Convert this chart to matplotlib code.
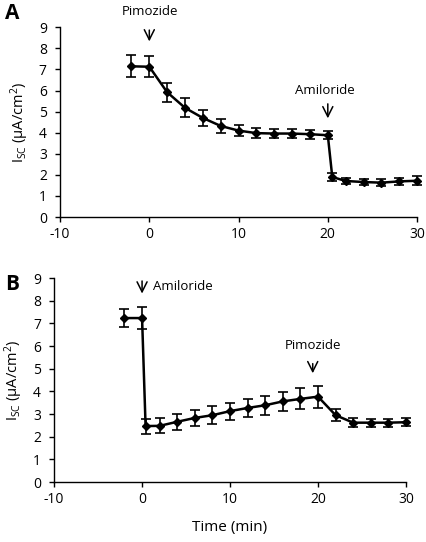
import matplotlib
matplotlib.use("Agg")
import matplotlib.pyplot as plt

plt.rcParams['font.family'] = ['Open Sans', 'DejaVu Sans']
plt.rcParams['mathtext.default'] = 'regular'
plt.rcParams['axes.unicode_minus'] = False

# Panel A data
xA = [-2, 0, 2, 4, 6, 8, 10, 12, 14, 16, 18, 20, 20.5, 22, 24, 26, 28, 30]
yA = [7.15, 7.13, 5.92, 5.18, 4.70, 4.32, 4.10, 3.98, 3.96, 3.96, 3.93, 3.88, 1.90, 1.71, 1.66, 1.63, 1.69, 1.72]
eA = [0.52, 0.50, 0.46, 0.45, 0.38, 0.32, 0.28, 0.23, 0.22, 0.22, 0.21, 0.19, 0.20, 0.15, 0.15, 0.16, 0.18, 0.22]

# Panel B data
xB = [-2, 0, 0.4, 2, 4, 6, 8, 10, 12, 14, 16, 18, 20, 22, 24, 26, 28, 30]
yB = [7.24, 7.24, 2.47, 2.48, 2.66, 2.83, 2.95, 3.13, 3.27, 3.39, 3.56, 3.67, 3.77, 2.95, 2.62, 2.62, 2.62, 2.64]
eB = [0.41, 0.47, 0.33, 0.33, 0.35, 0.37, 0.40, 0.38, 0.40, 0.41, 0.41, 0.46, 0.48, 0.27, 0.20, 0.17, 0.17, 0.18]

xticks = [-10, 0, 10, 20, 30]
yticks = list(range(0, 10))

fig = plt.figure(figsize=(4.26, 5.42), dpi=100)
axA = fig.add_axes([0.141, 0.5996, 0.838, 0.350])
axB = fig.add_axes([0.127, 0.1107, 0.826, 0.376])

def style(ax):
    ax.set_xlim(-10, 30)
    ax.set_ylim(0, 9)
    ax.set_xticks(xticks)
    ax.set_yticks(yticks)
    for s in ['top', 'right']:
        ax.spines[s].set_visible(False)
    for s in ['left', 'bottom']:
        ax.spines[s].set_linewidth(1.0)
    ax.tick_params(direction='out', length=3.5, width=1.0, labelsize=10)
    ax.tick_params(axis='y', pad=6)
    ax.tick_params(axis='x', pad=4)
    ax.set_ylabel(r'I$_{SC}$ (μA/cm$^2$)', fontsize=10.5, labelpad=6)

for ax, x, y, e in [(axA, xA, yA, eA), (axB, xB, yB, eB)]:
    ax.errorbar(x, y, yerr=e, color='black', lw=1.8, marker='D', ms=3.8,
                capsize=3.5, elinewidth=1.2, capthick=1.2, clip_on=False)
    style(ax)

arrow = dict(arrowstyle='->', color='black', lw=1.1, mutation_scale=18)
# Panel A annotations
axA.annotate('', xy=(0, 8.2), xytext=(0, 9.0), arrowprops=arrow, annotation_clip=False)
axA.text(0.1, 9.75, 'Pimozide', ha='center', va='center', fontsize=9.5, clip_on=False)
axA.annotate('', xy=(20, 4.55), xytext=(20, 5.5), arrowprops=arrow)
axA.text(19.7, 6.0, 'Amiloride', ha='center', va='center', fontsize=9.5)

# Panel B annotations
axB.annotate('', xy=(0, 8.2), xytext=(0, 9.0), arrowprops=arrow, annotation_clip=False)
axB.text(1.2, 8.65, 'Amiloride', ha='left', va='center', fontsize=9.5)
axB.annotate('', xy=(19.4, 4.68), xytext=(19.4, 5.35), arrowprops=arrow)
axB.text(19.4, 6.05, 'Pimozide', ha='center', va='center', fontsize=9.5)
axB.set_xlabel('Time (min)', fontsize=11, labelpad=9)

fig.text(0.012, 0.975, 'A', fontsize=15, fontweight='bold', va='center', ha='left')
fig.text(0.012, 0.475, 'B', fontsize=15, fontweight='bold', va='center', ha='left')

fig.savefig('out.png', dpi=100)
